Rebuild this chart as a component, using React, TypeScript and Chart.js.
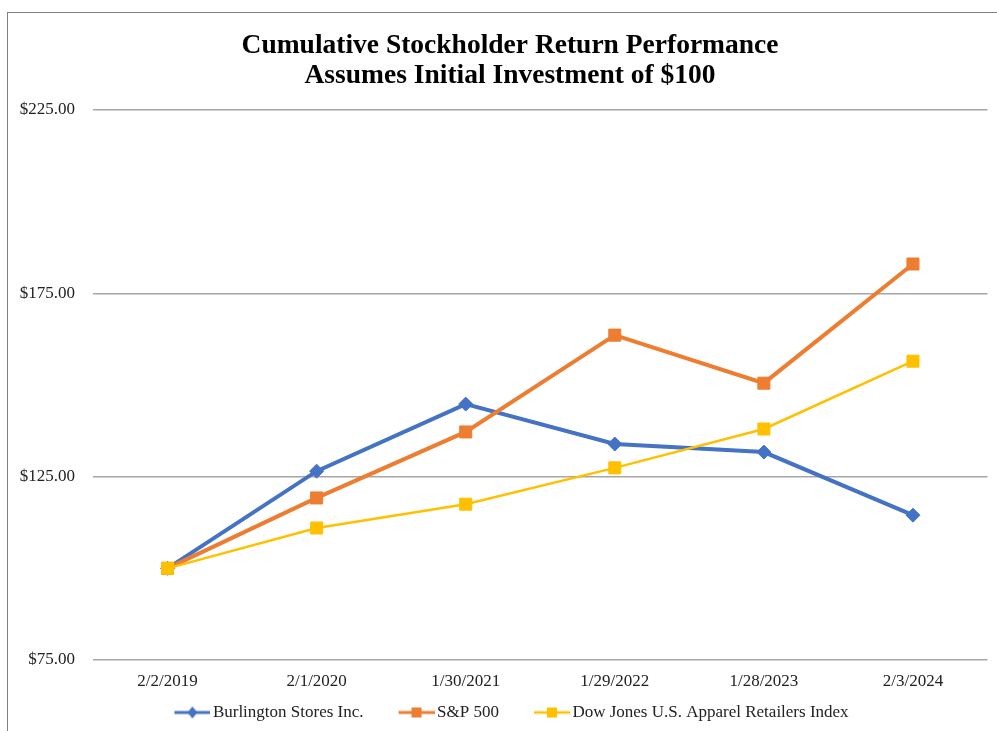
import React, { useEffect, useRef } from "react";
import { Chart, registerables } from "chart.js";

Chart.register(...registerables);

const categories = ["2/2/2019", "2/1/2020", "1/30/2021", "1/29/2022", "1/28/2023", "2/3/2024"];
const burlington = [100, 126.5, 144.8, 133.9, 131.7, 114.5];
const sp500 = [100, 119.2, 137.2, 163.6, 150.5, 183.0];
const dowJones = [100, 111.0, 117.5, 127.4, 138.0, 156.5];
const seriesNames = ["Burlington Stores Inc.", "S&P 500", "Dow Jones U.S. Apparel Retailers Index"];
const titleLines = ["Cumulative Stockholder Return Performance", "Assumes Initial Investment of $100"];

const BLUE = "#4472C4";
const ORANGE = "#ED7D31";
const YELLOW = "#FFC000";
const FONT = "'Liberation Serif', 'Times New Roman', serif";
const BOX_W = 59;

function legendIcon(color: string, shape: "diamond" | "square", lw: number): HTMLCanvasElement {
  const c = document.createElement("canvas");
  const W = BOX_W + 12;
  const H = 14;
  c.width = W;
  c.height = H;
  const ctx = c.getContext("2d")!;
  const x0 = W - 36;
  const cy = H / 2;
  ctx.strokeStyle = color;
  ctx.lineWidth = lw;
  ctx.beginPath();
  ctx.moveTo(x0, cy);
  ctx.lineTo(W, cy);
  ctx.stroke();
  ctx.fillStyle = color;
  const cx = x0 + 18;
  if (shape === "diamond") {
    ctx.beginPath();
    ctx.moveTo(cx, cy - 6);
    ctx.lineTo(cx + 5, cy);
    ctx.lineTo(cx, cy + 6);
    ctx.lineTo(cx - 5, cy);
    ctx.closePath();
    ctx.fill();
  } else {
    ctx.fillRect(cx - 5, cy - 5, 10, 10);
  }
  return c;
}

const shiftBoxes = {
  id: "shiftBoxes",
  afterLayout(chart: any) {
    if (chart.legend) {
      chart.legend.left -= 4;
      chart.legend.right -= 4;
    }
    if (chart.titleBlock) {
      chart.titleBlock.left += 9;
      chart.titleBlock.right += 9;
    }
  },
};

export default function App() {
  const ref = useRef<HTMLCanvasElement | null>(null);

  useEffect(() => {
    if (!ref.current) return;
    const icons = [
      legendIcon(BLUE, "diamond", 3),
      legendIcon(ORANGE, "square", 3),
      legendIcon(YELLOW, "square", 2.5),
    ];
    const chart = new Chart(ref.current, {
      type: "line",
      plugins: [shiftBoxes],
      data: {
        labels: categories,
        datasets: [
          {
            label: seriesNames[0],
            data: burlington,
            borderColor: BLUE,
            backgroundColor: BLUE,
            borderWidth: 4,
            pointStyle: "rectRot",
            pointRadius: 7,
            pointBorderWidth: 1,
            pointBorderColor: BLUE,
            tension: 0,
            order: 3,
          },
          {
            label: seriesNames[1],
            data: sp500,
            borderColor: ORANGE,
            backgroundColor: ORANGE,
            borderWidth: 4,
            pointStyle: "rect",
            pointRadius: 8.5,
            pointBorderWidth: 1,
            pointBorderColor: ORANGE,
            tension: 0,
            order: 2,
          },
          {
            label: seriesNames[2],
            data: dowJones,
            borderColor: YELLOW,
            backgroundColor: YELLOW,
            borderWidth: 2.5,
            pointStyle: "rect",
            pointRadius: 8.5,
            pointBorderWidth: 1,
            pointBorderColor: YELLOW,
            tension: 0,
            order: 1,
          },
        ],
      },
      options: {
        responsive: false,
        animation: false,
        layout: { padding: { left: 10, right: 5, top: 0, bottom: 0 } },
        plugins: {
          title: {
            display: true,
            text: titleLines,
            color: "#000",
            font: { family: FONT, size: 27.5, weight: "bold", lineHeight: 30 / 27.5 },
            padding: { top: 31, bottom: 19 },
          },
          legend: {
            position: "bottom",
            labels: {
              usePointStyle: true,
              pointStyleWidth: BOX_W,
              padding: 6,
              color: "#222",
              font: { family: FONT, size: 17 },
              generateLabels: (ch: any) =>
                ch.data.datasets.map((ds: any, i: number) => ({
                  text: ds.label,
                  pointStyle: icons[i],
                  fillStyle: ds.borderColor,
                  strokeStyle: ds.borderColor,
                  lineWidth: 0,
                  hidden: false,
                  datasetIndex: i,
                  fontColor: "#222",
                })),
            },
          },
          tooltip: { enabled: false },
        },
        scales: {
          x: {
            offset: true,
            grid: { display: false, drawTicks: false, offset: true },
            border: { display: false },
            ticks: { color: "#222", font: { family: FONT, size: 17 }, padding: 11, maxRotation: 0 },
            afterFit: (s: any) => {
              s.height = 38;
            },
          },
          y: {
            min: 75,
            max: 225,
            grid: { color: "#a6a6a6", lineWidth: 1.5, drawTicks: false },
            border: { display: false },
            ticks: {
              stepSize: 50,
              color: "#222",
              font: { family: FONT, size: 17 },
              padding: 18,
              callback: (v: any) => "$" + Number(v).toFixed(2),
            },
            afterFit: (s: any) => {
              s.width = 83;
            },
          },
        },
      },
    });
    return () => chart.destroy();
  }, []);

  return (
    <div style={{ position: "fixed", left: 0, top: 0, width: 997, height: 731, overflow: "hidden", background: "#fff" }}>
      <div
        style={{
          position: "absolute",
          left: 7,
          top: 12,
          width: 1100,
          height: 900,
          border: "1.5px solid #808080",
          boxSizing: "border-box",
        }}
      />
      <canvas ref={ref} width={997} height={731} style={{ position: "absolute", left: 0, top: 0, display: "block" }} />
    </div>
  );
}
